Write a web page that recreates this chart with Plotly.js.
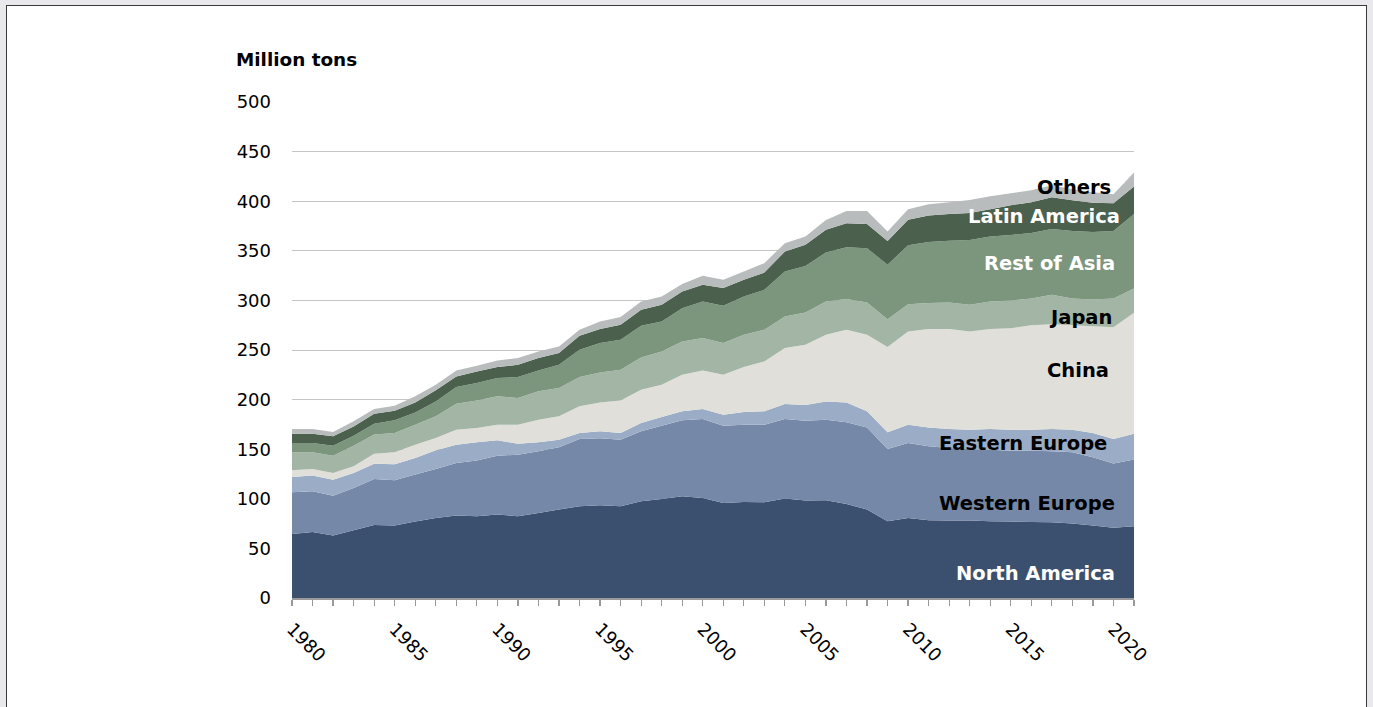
<!DOCTYPE html>
<html>
<head>
<meta charset="utf-8">
<script src="https://cdn.plot.ly/plotly-3.0.1.min.js"></script>
<style>
  html, body { margin: 0; padding: 0; width: 1373px; height: 707px; overflow: hidden; background: #e9e9ed; }
  #frame { position: absolute; left: 6px; top: 5px; width: 1361px; height: 720px; box-sizing: border-box;
           background: #ffffff; border: 1.5px solid #3a3a3a; }
  #chart { position: absolute; left: 0; top: 0; width: 1373px; height: 707px; }
</style>
</head>
<body>
<div id="frame"></div>
<div id="chart"></div>
<script>
const years = [1980,1981,1982,1983,1984,1985,1986,1987,1988,1989,
               1990,1991,1992,1993,1994,1995,1996,1997,1998,1999,
               2000,2001,2002,2003,2004,2005,2006,2007,2008,2009,
               2010,2011,2012,2013,2014,2015,2016,2017,2018,2019,
               2020,2021];

const northAmerica = [64.6,66.6,62.9,68.3,73.7,73.0,77.0,80.7,83.1,82.4,
                      84.1,82.4,85.8,89.1,92.5,93.5,92.5,97.5,99.9,102.5,
                      100.9,95.8,96.8,96.5,100.2,98.2,98.5,94.8,89.1,77.4,
                      80.7,78.4,78.0,78.0,77.4,77.0,76.7,76.4,75.0,73.0,
                      70.7,72.4];
const westernEurope = [42.0,41.0,40.3,42.6,46.3,45.7,47.4,49.4,53.0,56.1,
                       59.4,62.1,62.1,62.8,67.8,67.5,67.1,70.5,73.8,76.6,
                       79.5,77.9,77.9,78.2,80.2,80.5,81.3,82.3,82.9,72.8,
                       75.6,74.5,73.2,72.0,72.1,71.5,71.8,71.6,72.0,69.0,
                       64.8,67.1];
const easternEurope = [15.4,15.8,16.1,15.2,15.4,16.1,16.8,18.8,18.5,18.4,
                       15.4,11.1,9.0,7.7,6.0,7.0,6.7,8.4,8.8,9.1,
                       10.1,11.1,12.8,13.5,15.1,15.8,18.4,20.1,16.2,16.8,
                       18.4,19.1,19.2,19.7,20.9,21.0,21.2,22.4,22.7,24.3,
                       24.8,26.2];
const china = [6.7,6.7,6.8,6.7,10.1,12.1,13.4,12.4,15.1,14.5,
               15.8,19.1,22.9,23.5,26.9,29.2,32.9,33.6,32.5,36.9,
               38.9,40.3,45.3,50.3,56.4,60.8,67.2,73.2,77.2,85.9,
               94.0,99.1,100.7,99.0,100.7,102.5,105.3,105.6,105.3,107.7,
               112.7,121.8];
const japan = [18.2,16.8,17.4,20.8,19.2,19.4,20.1,21.8,26.2,27.8,
               28.6,26.9,28.5,28.6,29.5,30.2,30.9,32.5,33.6,33.5,
               32.6,31.9,32.6,31.9,31.9,32.5,33.5,31.1,32.6,28.1,
               27.3,26.4,26.8,26.9,27.9,28.0,27.0,29.6,27.0,27.0,
               29.0,24.5];
const restOfAsia = [9.4,9.4,10.1,10.0,11.0,12.8,12.4,15.1,16.8,17.5,
                    18.4,21.1,21.1,23.4,27.6,29.6,30.2,31.9,30.2,33.6,
                    36.9,37.6,38.6,40.3,45.3,47.0,49.4,52.0,54.5,55.0,
                    59.5,61.3,62.3,65.4,65.4,66.0,66.0,66.4,68.0,68.0,
                    68.0,75.0];
const latinAmerica = [9.4,9.4,9.4,9.4,10.1,9.7,10.1,11.1,10.7,11.7,
                      11.1,12.4,12.5,11.8,14.1,14.1,15.1,16.1,16.8,16.8,
                      16.8,17.8,16.7,17.4,20.2,21.2,22.8,24.3,24.5,24.0,
                      25.7,26.7,26.8,27.0,27.6,30.0,31.0,32.0,31.0,29.5,
                      28.0,27.7];
const others = [4.7,4.7,4.3,5.1,4.7,5.1,6.1,5.7,6.0,5.7,
                6.7,6.8,6.7,6.7,6.0,7.7,7.8,8.4,8.4,7.5,
                9.1,8.3,8.4,9.4,8.4,8.4,9.9,12.4,13.0,9.5,
                10.8,11.5,12.0,13.3,13.0,12.0,12.0,12.0,11.0,10.5,
                9.0,14.3];

const seriesNames = ["North America","Western Europe","Eastern Europe","China",
                     "Japan","Rest of Asia","Latin America","Others"];
const seriesValues = [northAmerica, westernEurope, easternEurope, china,
                      japan, restOfAsia, latinAmerica, others];
const seriesColors = ["#3b506e","#7588a8","#9badc6","#e1dfd9",
                      "#a3b6a6","#7b967d","#4b614e","#b9bcbd"];

const yTicks = [0,50,100,150,200,250,300,350,400,450,500];
const labeledYears = [1980,1985,1990,1995,2000,2005,2010,2015,2020];

const traces = seriesNames.map((name, i) => ({
  type: "scatter",
  x: years,
  y: seriesValues[i],
  name: name,
  stackgroup: "one",
  mode: "none",
  fillcolor: seriesColors[i],
  line: { width: 0, shape: "linear" },
  hoverinfo: "skip"
}));

const FONT = "DejaVu Sans, Verdana, sans-serif";

function lab(text, x, y, color) {
  return { text: "<b>" + text + "</b>", x: x, y: y, xref: "x", yref: "y",
           showarrow: false, xanchor: "center", yanchor: "middle",
           font: { family: FONT, size: 19.5, color: color } };
}

const layout = {
  width: 1373,
  height: 707,
  paper_bgcolor: "rgba(0,0,0,0)",
  plot_bgcolor: "rgba(0,0,0,0)",
  showlegend: false,
  hovermode: false,
  margin: { l: 292, r: 238.5, t: 102.3, b: 108.5, pad: 0 },
  title: {
    text: "<b>Million tons</b>",
    font: { family: FONT, size: 18.4, color: "#000000" },
    xref: "container", yref: "container",
    x: 236 / 1373, xanchor: "left",
    y: 1 - 60 / 707, yanchor: "middle"
  },
  xaxis: {
    type: "linear",
    range: [1980, 2021],
    tickmode: "array",
    tickvals: years,
    ticktext: years.map(y => labeledYears.includes(y) ? String(y) : ""),
    tickangle: 45,
    ticks: "outside",
    ticklen: 6,
    tickwidth: 1.2,
    tickcolor: "#999999",
    ticklabelstandoff: 6,
    showline: true,
    linecolor: "#999999",
    linewidth: 1.5,
    showgrid: false,
    zeroline: false,
    tickfont: { family: FONT, size: 18, color: "#000000" },
    fixedrange: true
  },
  yaxis: {
    range: [0, 500],
    tickmode: "array",
    tickvals: yTicks,
    ticktext: yTicks.map(String),
    ticks: "",
    ticklabelstandoff: 20,
    showline: false,
    showgrid: true,
    gridcolor: "#c6c6c6",
    gridwidth: 1,
    zeroline: false,
    tickfont: { family: FONT, size: 18, color: "#000000" },
    fixedrange: true
  },
  annotations: [
    lab("Others", 2018.1, 413.5, "#000000"),
    lab("Latin America", 2016.6, 385, "#ffffff"),
    lab("Rest of Asia", 2016.9, 337, "#ffffff"),
    lab("Japan", 2018.4, 282.5, "#000000"),
    lab("China", 2018.25, 229, "#000000"),
    lab("Eastern Europe", 2015.6, 155.6, "#000000"),
    lab("Western Europe", 2015.8, 95.2, "#000000"),
    lab("North America", 2016.2, 24.7, "#ffffff")
  ]
};

Plotly.newPlot("chart", traces, layout, { displayModeBar: false, staticPlot: true });
</script>
</body>
</html>
